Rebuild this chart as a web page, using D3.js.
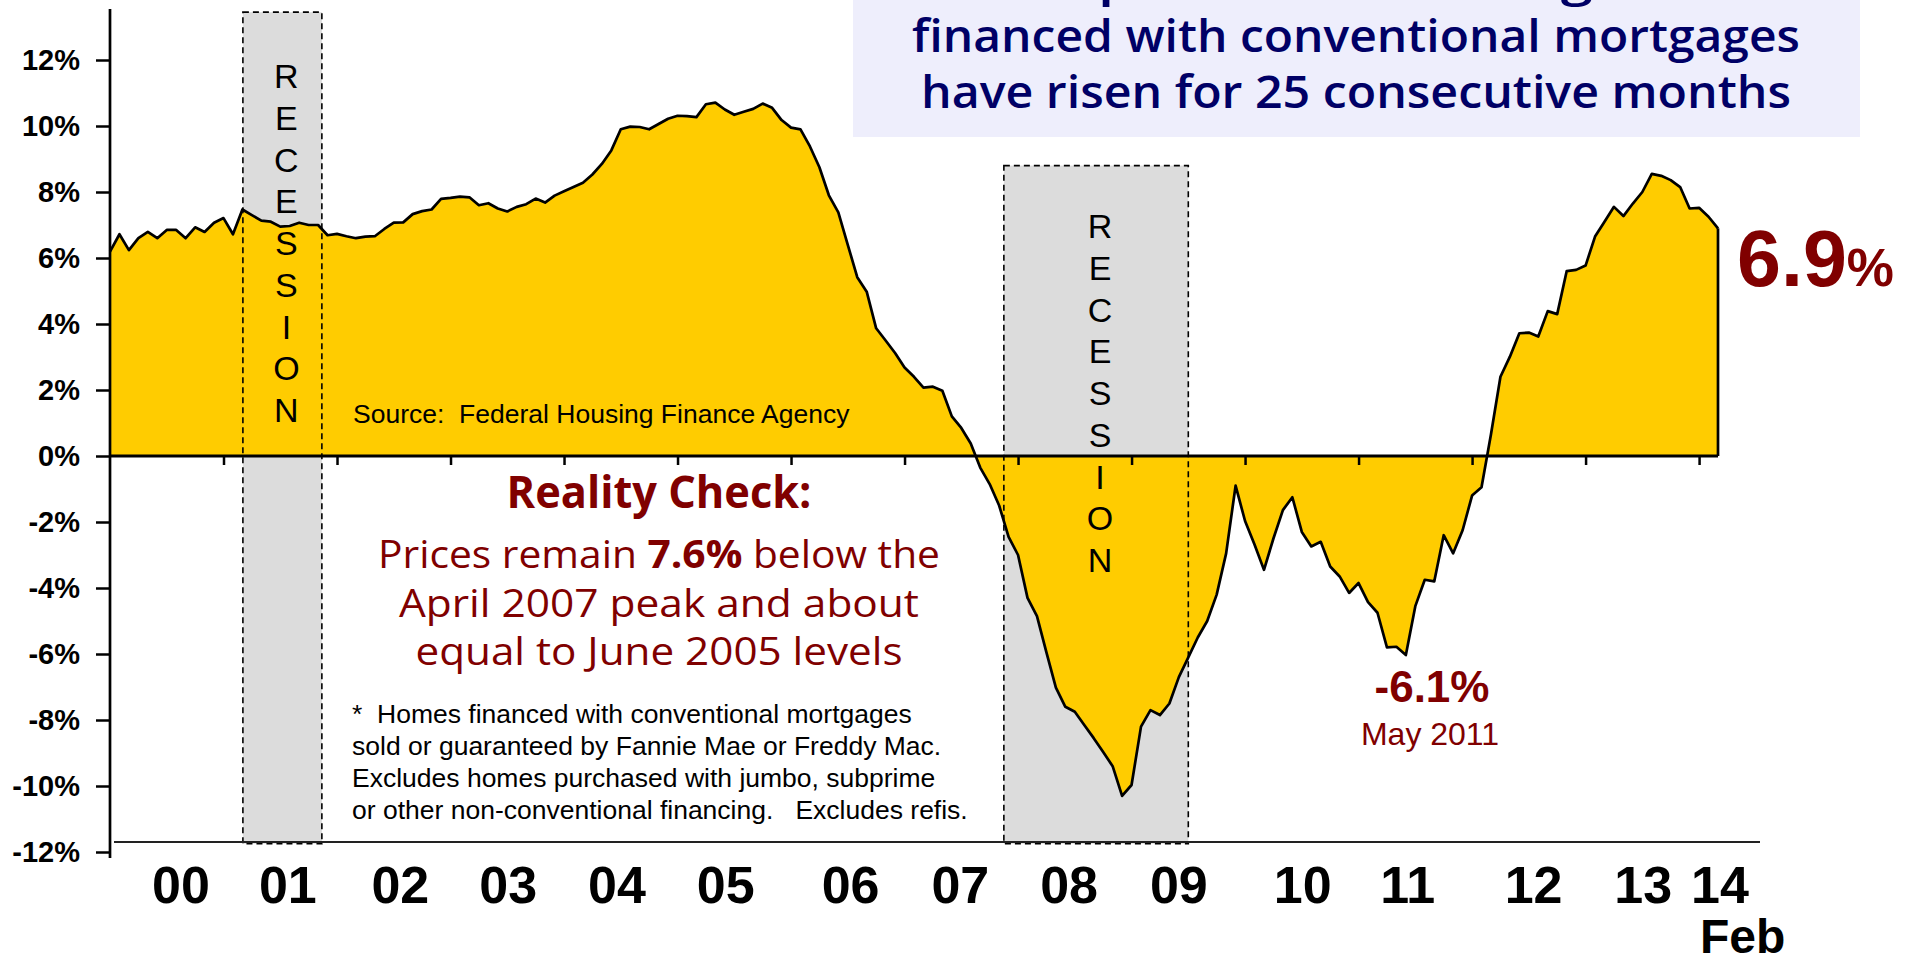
<!DOCTYPE html>
<html>
<head>
<meta charset="utf-8">
<script src="https://cdn.jsdelivr.net/npm/d3@7/dist/d3.min.js"></script>
<style>
  html, body { margin: 0; padding: 0; background: #fff; }
  svg { display: block; }
</style>
</head>
<body>
<div id="chart"></div>
<script>
// ----------------------------------------------
// DATA
// ----------------------------------------------
// year-over-year % change, monthly, last point = Feb 2014
const values = [
  6.19, 6.72, 6.24, 6.6, 6.79, 6.6, 6.85, 6.85, 6.6, 6.93, 6.79, 7.07,
  7.21, 6.72, 7.47, 7.3, 7.13, 7.1, 6.95, 6.97, 7.07, 7.0, 7.0, 6.69,
  6.73, 6.66, 6.6, 6.65, 6.66, 6.88, 7.07, 7.08, 7.33, 7.42, 7.47, 7.79,
  7.82, 7.86, 7.84, 7.6, 7.66, 7.5, 7.41, 7.55, 7.63, 7.8, 7.68, 7.89,
  8.02, 8.15, 8.28, 8.53, 8.85, 9.26, 9.9, 9.98, 9.97, 9.9, 10.06, 10.22,
  10.31, 10.3, 10.27, 10.66, 10.71, 10.5, 10.34, 10.43, 10.52, 10.68, 10.55, 10.18,
  9.95, 9.9, 9.38, 8.75, 7.9, 7.38, 6.4, 5.42, 4.98, 3.87, 3.5, 3.12,
  2.68, 2.4, 2.07, 2.1, 1.98, 1.2, 0.85, 0.38, -0.35, -0.85, -1.5, -2.45,
  -3.0, -4.3, -4.85, -5.95, -7.02, -7.6, -7.75, -8.15, -8.55, -8.97, -9.4, -10.3,
  -9.97, -8.2, -7.7, -7.85, -7.5, -6.7, -6.1, -5.5, -5.0, -4.2, -2.95, -0.9,
  -1.97, -2.68, -3.45, -2.5, -1.64, -1.25, -2.3, -2.74, -2.6, -3.35, -3.65, -4.15,
  -3.85, -4.43, -4.75, -5.8, -5.78, -6.03, -4.55, -3.75, -3.8, -2.4, -2.95, -2.25,
  -1.2, -0.95, 0.66, 2.4, 3.01, 3.72, 3.74, 3.62, 4.39, 4.3, 5.6, 5.64,
  5.77, 6.65, 7.1, 7.55, 7.27, 7.65, 8.0, 8.55, 8.49, 8.36, 8.15, 7.5,
  7.52, 7.25, 6.9
];

const yTicks = [-12, -10, -8, -6, -4, -2, 0, 2, 4, 6, 8, 10, 12];
const yearLabels = ["00", "01", "02", "03", "04", "05", "06", "07", "08", "09", "10", "11", "12", "13", "14"];
// month index each year label sits on (as in the original slide)
const yearLabelMonth = [7.5, 18.8, 30.7, 42.1, 53.6, 65.1, 78.3, 89.9, 101.4, 113.0, 126.1, 137.2, 150.5, 162.1, 170.2];

// recession bands: start / end month index, top of the box in %
const recessionStart = [14.05, 94.5];
const recessionEnd = [22.4, 114.0];
const recessionTop = [13.45, 8.8];

const titleLines = [
  "Home prices for existing homes",
  "financed with conventional mortgages",
  "have risen for 25 consecutive months"
];
const noteLines = [
  "*  Homes financed with conventional mortgages",
  "sold or guaranteed by Fannie Mae or Freddy Mac.",
  "Excludes homes purchased with jumbo, subprime",
  "or other non-conventional financing.   Excludes refis."
];

// ----------------------------------------------
// SETUP
// ----------------------------------------------
const W = 1909, H = 957;
const RED = "#800000", NAVY = "#000066", GOLD = "#FFCC00";
const ARIAL = "'Liberation Sans', Arial, sans-serif";
const HUMAN = "'Open Sans', 'DejaVu Sans', sans-serif";

const svg = d3.select("#chart").append("svg")
  .attr("width", W).attr("height", H)
  .attr("viewBox", `0 0 ${W} ${H}`);

const x = d3.scaleLinear().domain([0, values.length - 1]).range([110, 1718]);
const y = d3.scaleLinear().domain([-12, 12]).range([852, 60]);

// ----------------------------------------------
// TITLE BOX
// ----------------------------------------------
svg.append("rect")
  .attr("x", 853).attr("y", 0).attr("width", 1007).attr("height", 137)
  .attr("fill", "#EEEEFC");

const titleLen = [880, 888, 870];
titleLines.forEach((t, i) => {
  svg.append("text")
    .attr("x", 1356).attr("y", -4 + i * 56)
    .attr("text-anchor", "middle")
    .attr("font-family", HUMAN).attr("font-size", 46).attr("font-weight", 600)
    .attr("fill", NAVY)
    .attr("textLength", titleLen[i]).attr("lengthAdjust", "spacingAndGlyphs")
    .text(t);
});

// ----------------------------------------------
// RECESSION BANDS (fill first, outline later)
// ----------------------------------------------
const bandBottom = y(-11.75);
recessionStart.forEach((s, i) => {
  svg.append("rect")
    .attr("x", x(s)).attr("y", y(recessionTop[i]))
    .attr("width", x(recessionEnd[i]) - x(s))
    .attr("height", bandBottom - y(recessionTop[i]))
    .attr("fill", "#DCDCDC");
});

// ----------------------------------------------
// AREA + LINE
// ----------------------------------------------
const area = d3.area()
  .x((d, i) => x(i))
  .y0(y(0))
  .y1(d => y(d));

const line = d3.line()
  .x((d, i) => x(i))
  .y(d => y(d));

svg.append("path").datum(values)
  .attr("d", area)
  .attr("fill", GOLD);

svg.append("path").datum(values)
  .attr("d", line)
  .attr("fill", "none")
  .attr("stroke", "#000")
  .attr("stroke-width", 2.7)
  .attr("stroke-linejoin", "round");

const last = values.length - 1;
svg.append("line")
  .attr("x1", x(last)).attr("x2", x(last))
  .attr("y1", y(values[last])).attr("y2", y(0))
  .attr("stroke", "#000").attr("stroke-width", 2.7);

// zero line + month ticks
svg.append("line")
  .attr("x1", x(0)).attr("x2", x(last))
  .attr("y1", y(0)).attr("y2", y(0))
  .attr("stroke", "#000").attr("stroke-width", 3);

const xAxis = d3.axisBottom(x)
  .tickValues(d3.range(12, last, 12))
  .tickSize(9)
  .tickFormat("");
svg.append("g")
  .attr("transform", `translate(0,${y(0)})`)
  .call(xAxis)
  .call(g => g.select(".domain").remove())
  .call(g => g.selectAll(".tick line").attr("stroke", "#000").attr("stroke-width", 2.5));

// recession outlines + letters
recessionStart.forEach((s, i) => {
  svg.append("rect")
    .attr("x", x(s)).attr("y", y(recessionTop[i]))
    .attr("width", x(recessionEnd[i]) - x(s))
    .attr("height", bandBottom - y(recessionTop[i]))
    .attr("fill", "none")
    .attr("stroke", "#000").attr("stroke-width", 1.6)
    .attr("stroke-dasharray", "6,4");

  const cx = (x(s) + x(recessionEnd[i])) / 2 + 4;
  const top = i === 0 ? 88 : 238;
  "RECESSION".split("").forEach((ch, k) => {
    svg.append("text")
      .attr("x", cx).attr("y", top + k * 41.75)
      .attr("text-anchor", "middle")
      .attr("font-family", ARIAL).attr("font-size", 34)
      .attr("fill", "#000")
      .text(ch);
  });
});

// ----------------------------------------------
// AXES FRAME
// ----------------------------------------------
svg.append("line")
  .attr("x1", 114).attr("x2", 1760)
  .attr("y1", 842).attr("y2", 842)
  .attr("stroke", "#222").attr("stroke-width", 2);

const yAxis = d3.axisLeft(y)
  .tickValues(yTicks)
  .tickSize(14)
  .tickPadding(16)
  .tickFormat(d => d + "%");
svg.append("g")
  .attr("transform", `translate(${x(0)},0)`)
  .call(yAxis)
  .call(g => g.select(".domain").remove())
  .call(g => g.selectAll(".tick line").attr("stroke", "#000").attr("stroke-width", 2.5))
  .call(g => g.selectAll(".tick text")
    .attr("font-family", ARIAL).attr("font-size", 29).attr("font-weight", "bold")
    .attr("fill", "#000").attr("dy", "0.34em"));

svg.append("line")
  .attr("x1", x(0)).attr("x2", x(0))
  .attr("y1", 9).attr("y2", 858)
  .attr("stroke", "#000").attr("stroke-width", 2.7);

// year labels
yearLabels.forEach((t, k) => {
  svg.append("text")
    .attr("x", x(yearLabelMonth[k])).attr("y", 903)
    .attr("text-anchor", "middle")
    .attr("font-family", ARIAL).attr("font-size", 52).attr("font-weight", "bold")
    .attr("fill", "#000")
    .text(t);
});
svg.append("text")
  .attr("x", 1700).attr("y", 953)
  .attr("font-family", ARIAL).attr("font-size", 48).attr("font-weight", "bold")
  .attr("fill", "#000")
  .text("Feb");

// ----------------------------------------------
// ANNOTATIONS
// ----------------------------------------------
svg.append("text")
  .attr("x", 353).attr("y", 423)
  .attr("font-family", ARIAL).attr("font-size", 26.5)
  .attr("fill", "#000")
  .attr("xml:space", "preserve")
  .text("Source:  Federal Housing Finance Agency");

svg.append("text")
  .attr("x", 659).attr("y", 508)
  .attr("text-anchor", "middle")
  .attr("font-family", HUMAN).attr("font-size", 45).attr("font-weight", "bold")
  .attr("fill", RED)
  .attr("textLength", 305).attr("lengthAdjust", "spacingAndGlyphs")
  .text("Reality Check:");

const p1 = svg.append("text")
  .attr("x", 659).attr("y", 568)
  .attr("text-anchor", "middle")
  .attr("font-family", HUMAN).attr("font-size", 39)
  .attr("fill", RED)
  .attr("textLength", 562).attr("lengthAdjust", "spacingAndGlyphs");
p1.append("tspan").text("Prices remain ");
p1.append("tspan").attr("font-weight", "bold").text("7.6%");
p1.append("tspan").text(" below the");

svg.append("text")
  .attr("x", 659).attr("y", 617)
  .attr("text-anchor", "middle")
  .attr("font-family", HUMAN).attr("font-size", 39)
  .attr("fill", RED)
  .attr("textLength", 520).attr("lengthAdjust", "spacingAndGlyphs")
  .text("April 2007 peak and about");

svg.append("text")
  .attr("x", 659).attr("y", 665)
  .attr("text-anchor", "middle")
  .attr("font-family", HUMAN).attr("font-size", 39)
  .attr("fill", RED)
  .attr("textLength", 487).attr("lengthAdjust", "spacingAndGlyphs")
  .text("equal to June 2005 levels");

noteLines.forEach((t, i) => {
  svg.append("text")
    .attr("x", 352).attr("y", 723 + i * 32)
    .attr("font-family", ARIAL).attr("font-size", 26.5)
    .attr("fill", "#000")
    .attr("xml:space", "preserve")
    .text(t);
});

// trough label
svg.append("text")
  .attr("x", 1432).attr("y", 702)
  .attr("text-anchor", "middle")
  .attr("font-family", ARIAL).attr("font-size", 44).attr("font-weight", "bold")
  .attr("fill", RED)
  .text("-6.1%");
svg.append("text")
  .attr("x", 1430).attr("y", 745)
  .attr("text-anchor", "middle")
  .attr("font-family", ARIAL).attr("font-size", 32)
  .attr("fill", RED)
  .text("May 2011");

// latest value
const lastLbl = svg.append("text")
  .attr("x", 1737).attr("y", 286)
  .attr("font-family", ARIAL).attr("font-weight", "bold")
  .attr("fill", RED);
lastLbl.append("tspan").attr("font-size", 79).text(values[last].toFixed(1));
lastLbl.append("tspan").attr("font-size", 53).text("%");
</script>
</body>
</html>
